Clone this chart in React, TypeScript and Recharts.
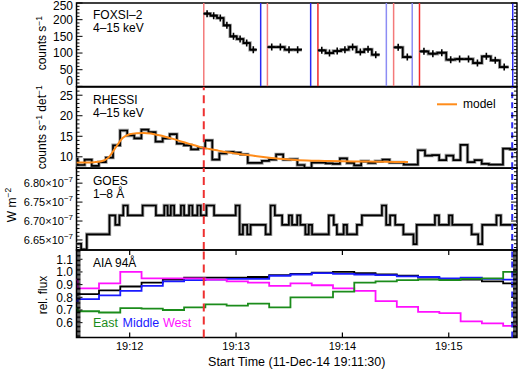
import React from 'react';
import { ComposedChart, Line, XAxis, YAxis, ReferenceLine, ReferenceArea } from 'recharts';

// ---------------- data ----------------
const TIME_DOMAIN: [number, number] = [0, 248.5]; // seconds after 19:11:30
const TIME_TICKS = [30, 90, 150, 210];
const TIME_LABELS = ['19:12', '19:13', '19:14', '19:15'];
const TIME_TITLE = 'Start Time (11-Dec-14 19:11:30)';

// FOXSI-2 target segments (start, end seconds) and count rates
const FOXSI_SEG_START = [71.8, 107.7, 136.2, 178.9, 193.5];
const FOXSI_SEG_END = [101.6, 127.2, 171.0, 189.2, 243.8];
const FOXSI_A = [218, 212, 205, 183, 150, 142, 130, 110];
const FOXSI_B = [118, 118, 110, 110];
const FOXSI_C = [108, 100, 106, 110, 118, 103, 111, 95];
const FOXSI_D = [117, 88];
const FOXSI_E = [105, 98, 101, 80, 82, 82, 70, 90, 78, 58];
const FOXSI_SEGMENTS = [FOXSI_A, FOXSI_B, FOXSI_C, FOXSI_D, FOXSI_E];

// target change markers
const MARKER_T = [71.8, 103.9, 107.7, 132.1, 136.2, 174.8, 178.9, 189.4, 193.5, 246.1];
const MARKER_KIND = ['pink', 'blue', 'pink', 'blue', 'red', 'lightblue', 'pink', 'lightblue', 'red', 'blue'];

// RHESSI 4 s bins
const RHESSI_START = -3.4;
const RHESSI_BIN = 4;
const RHESSI_RATE = [
  9.5, 8.0, 9.3, 7.8, 8.7, 9.8, 12.8, 16.4, 15.2, 14.5,
  16.6, 16.0, 13.7, 14.5, 15.5, 13.2, 12.8, 11.8, 12.2, 14.0,
  9.3, 10.8, 11.2, 11.0, 10.6, 8.5, 8.5, 9.0, 9.3, 10.6,
  9.3, 9.4, 8.0, 7.3, 8.6, 8.6, 8.4, 8.3, 9.6, 8.5,
  7.9, 8.9, 8.5, 8.9, 9.3, 8.6, 8.6, 8.1, 8.1, 11.6,
  10.3, 10.4, 9.2, 10.3, 9.2, 12.9, 8.7, 9.2, 8.3, 8.1,
  8.1, 12.0, 11.8,
];
const MODEL_T = [0, 5, 10, 14, 18, 22, 26, 30, 34, 38, 42, 46, 50, 55, 60, 65, 70, 75, 80, 85, 90, 95, 100, 110, 120, 130, 140, 150, 160, 170, 180, 187];
const MODEL_V = [8.6, 8.6, 8.7, 8.9, 9.8, 12.2, 14.6, 15.5, 15.75, 15.8, 15.65, 15.3, 14.9, 14.3, 13.6, 13.0, 12.35, 11.9, 11.5, 11.1, 10.8, 10.5, 10.25, 9.7, 9.35, 9.1, 9.0, 8.9, 8.85, 8.8, 8.75, 8.75];

// GOES 1-8 A (units of 1e-7 W m^-2), step start times
const GOES_T = [0, 2.6, 5.8, 18.6, 21.9, 24.2, 26.4, 28.9, 37.3, 44.8, 49.5, 51.4, 53.2, 55.1, 58.9, 60.7, 63.5, 65.4, 68.2, 70.1, 73.3, 77.6, 89.8, 92.0, 93.9, 96.3, 98.2, 106.7, 109.5, 111.9, 116.0, 119.8, 121.6, 124.5, 126.3, 129.1, 131.0, 132.9, 142.3, 145.1, 146.9, 150.7, 152.6, 158.2, 161.0, 172.3, 174.7, 176.9, 179.8, 184.4, 190.1, 191.9, 202.2, 204.5, 210.1, 212.0, 222.9, 226.6, 228.9, 236.9, 239.4];
const GOES_FLUX = [6.64, 6.625, 6.665, 6.715, 6.69, 6.715, 6.741, 6.715, 6.741, 6.715, 6.741, 6.715, 6.741, 6.715, 6.741, 6.715, 6.741, 6.715, 6.741, 6.715, 6.741, 6.715, 6.741, 6.665, 6.69, 6.665, 6.69, 6.665, 6.741, 6.715, 6.69, 6.715, 6.69, 6.715, 6.69, 6.665, 6.69, 6.665, 6.715, 6.69, 6.665, 6.69, 6.665, 6.69, 6.715, 6.741, 6.69, 6.715, 6.69, 6.665, 6.639, 6.69, 6.715, 6.69, 6.715, 6.69, 6.665, 6.639, 6.69, 6.715, 6.69];
const GOES_END = 248.5;

// AIA 94 A, 12 s bins
const AIA_START = -11.3;
const AIA_BIN = 12;
const AIA_TOTAL = [0.82, 0.825, 0.855, 0.885, 0.915, 0.94, 0.955, 0.955, 0.955, 0.96, 0.975, 0.985, 0.995, 1.0, 0.99, 0.98, 0.97, 0.955, 0.945, 0.94, 0.925, 0.91];
const AIA_MIDDLE = [0.77, 0.785, 0.815, 0.85, 0.89, 0.925, 0.935, 0.94, 0.945, 0.945, 0.97, 0.98, 0.99, 0.985, 0.98, 0.975, 0.965, 0.96, 0.95, 0.955, 0.945, 0.94];
const AIA_WEST = [0.94, 0.87, 0.91, 1.0, 0.95, 0.95, 0.95, 0.94, 0.925, 0.915, 0.89, 0.91, 0.895, 0.87, 0.85, 0.77, 0.725, 0.685, 0.675, 0.61, 0.595, 0.575];
const AIA_EAST = [0.715, 0.69, 0.68, 0.715, 0.71, 0.70, 0.72, 0.745, 0.735, 0.75, 0.72, 0.80, 0.80, 0.845, 0.915, 0.925, 0.935, 0.94, 0.935, 0.945, 0.95, 1.0];

const FLARE_T = 71.8;
const END_T = 245.8;

// ---------------- layout / style ----------------
const FONT = '"Liberation Sans", Arial, Helvetica, sans-serif';
const W = 523;
const PLOT_L = 76.5;
const PLOT_R = 517;
const MV = 8;
const P1 = { top: 3.3, h: 83.4 };
const P2 = { top: 86.7, h: 81.3 };
const P3 = { top: 168, h: 82 };
const P4 = { top: 250, h: 87.5 };
const KIND_COLOR: Record<string, string> = { pink: '#f47a7a', red: '#f02a2a', blue: '#2a2af2', lightblue: '#8c8cf4' };

type Pt = { t: number; v: number };
const binSteps = (start: number, dt: number, vals: number[]): Pt[] => {
  const pts = vals.map((v, i) => ({ t: start + i * dt, v }));
  pts.push({ t: start + vals.length * dt, v: vals[vals.length - 1] });
  return pts;
};
const edgeSteps = (ts: number[], vals: number[], end: number): Pt[] => {
  const pts = ts.map((t, i) => ({ t, v: vals[i] }));
  pts.push({ t: end, v: vals[vals.length - 1] });
  return pts;
};
const range = (a: number, b: number, step: number) => {
  const n = Math.round((b - a) / step);
  return Array.from({ length: n + 1 }, (_, i) => +(a + i * step).toFixed(4));
};

const foxsiSegs = FOXSI_SEGMENTS.map((vals, i) => {
  const s = FOXSI_SEG_START[i];
  const dt = (FOXSI_SEG_END[i] - s) / vals.length;
  return {
    steps: binSteps(s, dt, vals),
    centers: vals.map((v, j) => ({ t: s + (j + 0.5) * dt, v })),
  };
});
const rhessiSteps = binSteps(RHESSI_START, RHESSI_BIN, RHESSI_RATE);
const modelPts = MODEL_T.map((t, i) => ({ t, v: MODEL_V[i] }));
const goesSteps = edgeSteps(GOES_T, GOES_FLUX, GOES_END);
const aiaTotal = binSteps(AIA_START, AIA_BIN, AIA_TOTAL);
const aiaMiddle = binSteps(AIA_START, AIA_BIN, AIA_MIDDLE);
const aiaWest = binSteps(AIA_START, AIA_BIN, AIA_WEST);
const aiaEast = binSteps(AIA_START, AIA_BIN, AIA_EAST);

function makeYTick(majors: number[], fmt: (v: number) => React.ReactNode, fontSize: number, cTop: number, cBot: number, minorLen = 3) {
  return (props: any) => {
    const { y, payload } = props;
    const v = payload.value;
    const major = majors.some((m) => Math.abs(m - v) < 1e-6);
    const len = major ? 6 : minorLen;
    const ly = Math.min(Math.max(y, cTop), cBot);
    return (
      <g>
        <line x1={PLOT_L} x2={PLOT_L + len} y1={y} y2={y} stroke="#000" strokeWidth={1} />
        <line x1={PLOT_R - len} x2={PLOT_R} y1={y} y2={y} stroke="#000" strokeWidth={1} />
        {major && (
          <text x={73} y={ly} dy="0.36em" textAnchor="end" fontSize={fontSize} fontFamily={FONT} fill="#000">
            {fmt(v)}
          </text>
        )}
      </g>
    );
  };
}

function makeXTick(top: number, bottom: number, labels: boolean) {
  return (props: any) => {
    const { x, payload } = props;
    const idx = TIME_TICKS.indexOf(payload.value);
    return (
      <g>
        <line x1={x} x2={x} y1={top} y2={top + 5} stroke="#000" strokeWidth={1.2} />
        <line x1={x} x2={x} y1={bottom - 5} y2={bottom} stroke="#000" strokeWidth={1.2} />
        {labels && (
          <text x={x} y={bottom + 12.5} textAnchor="middle" fontSize={11} fontFamily={FONT} fill="#000">
            {TIME_LABELS[idx]}
          </text>
        )}
      </g>
    );
  };
}

const plusDot = (p: any) => {
  if (p.cx == null || p.cy == null) return <g key={p.index} />;
  return <path key={p.index} d={`M${p.cx - 3.5},${p.cy}h7M${p.cx},${p.cy - 3.5}v7`} stroke="#000" strokeWidth={1.6} fill="none" />;
};

const boxStyle = (p: { top: number; h: number }, extra: number): React.CSSProperties => ({
  position: 'absolute',
  left: 0,
  top: p.top - MV,
  width: W,
  height: MV + p.h + extra,
});

const txt = (x: number, y: number, s: React.ReactNode, fill = '#000', size = 11.5) => (
  <text x={x} y={y} fontSize={size} fontFamily={FONT} fill={fill}>
    {s}
  </text>
);

const rotTitle = (x: number, cy: number, content: React.ReactNode) => (
  <text transform={`translate(${x},${cy}) rotate(-90)`} textAnchor="middle" fontSize={12} fontFamily={FONT} fill="#000">
    {content}
  </text>
);

const stepPair = (key: string, data: Pt[]) => [
  <Line key={key + 'h'} data={data} dataKey="v" type="stepAfter" stroke="#9a9a9a" strokeWidth={3.4} dot={false} isAnimationActive={false} />,
  <Line key={key + 'b'} data={data} dataKey="v" type="stepAfter" stroke="#000" strokeWidth={1.7} dot={false} isAnimationActive={false} />,
];

export default function App() {
  const goesFmt = (v: number) => (
    <>
      {v.toFixed(2)}×10<tspan dy={-5} fontSize={8}>−7</tspan>
    </>
  );
  return (
    <div style={{ position: 'absolute', left: 0, top: 0, width: W, height: 370, background: '#fff', overflow: 'hidden' }}>
      {/* Panel 1: FOXSI */}
      <div style={boxStyle(P1, MV)}>
        <ComposedChart width={W} height={MV + P1.h + MV} margin={{ top: MV, right: W - PLOT_R, bottom: MV, left: 0 }}>
          <XAxis type="number" dataKey="t" domain={TIME_DOMAIN} allowDataOverflow ticks={TIME_TICKS} interval={0} height={0} axisLine={false} tickLine={false} tick={makeXTick(MV, MV + P1.h, false)} />
          <YAxis
            type="number"
            domain={[0, 250]}
            allowDataOverflow
            ticks={range(0, 250, 10)}
            interval={0}
            width={PLOT_L}
            axisLine={false}
            tickLine={false}
            tick={makeYTick(range(0, 250, 50), (v) => String(v), 12, MV + 2.7, MV + P1.h - 5.5)}
            label={{
              content: () => (
                <g transform={`translate(0,${-(P1.top - MV)})`}>
                  {txt(93, 19.5, 'FOXSI–2', '#000', 12)}
                  {txt(93, 32, '4–15 keV', '#000', 12)}
                  {rotTitle(46, 43.5, <>counts s<tspan dy={-4.5} fontSize={8.5}>−1</tspan></>)}
                </g>
              ),
            }}
          />
          {MARKER_T.map((t, i) => (
            <ReferenceLine key={'m' + i} x={t} stroke={KIND_COLOR[MARKER_KIND[i]]} strokeWidth={1.5} />
          ))}
          {foxsiSegs.map((seg, i) => [
            ...stepPair('f' + i, seg.steps),
            <Line key={'fc' + i} data={seg.centers} dataKey="v" stroke="none" dot={plusDot} isAnimationActive={false} />,
          ])}
          <ReferenceArea x1={0} x2={TIME_DOMAIN[1]} y1={0} y2={250} fill="none" stroke="#000" strokeWidth={1.5} />
        </ComposedChart>
      </div>

      {/* Panel 2: RHESSI */}
      <div style={boxStyle(P2, MV)}>
        <ComposedChart width={W} height={MV + P2.h + MV} margin={{ top: MV, right: W - PLOT_R, bottom: MV, left: 0 }}>
          <XAxis type="number" dataKey="t" domain={TIME_DOMAIN} allowDataOverflow ticks={TIME_TICKS} interval={0} height={0} axisLine={false} tickLine={false} tick={makeXTick(MV, MV + P2.h, false)} />
          <YAxis
            type="number"
            domain={[7.2, 27]}
            allowDataOverflow
            ticks={range(8, 27, 1)}
            interval={0}
            width={PLOT_L}
            axisLine={false}
            tickLine={false}
            tick={makeYTick([10, 15, 20, 25], (v) => String(v), 12, 0, 999)}
            label={{
              content: () => (
                <g transform={`translate(0,${-(P2.top - MV)})`}>
                  {txt(93, 103.5, 'RHESSI', '#000', 12)}
                  {txt(93, 116.5, '4–15 keV', '#000', 12)}
                  <line x1={437} x2={457} y1={104} y2={104} stroke="#ff8c1a" strokeWidth={2} />
                  {txt(463, 108, 'model', '#000', 12)}
                  {rotTitle(46, 127, <>counts s<tspan dy={-4.5} fontSize={8.5}>−1</tspan><tspan dy={4.5}> det</tspan><tspan dy={-4.5} fontSize={8.5}>−1</tspan></>)}
                </g>
              ),
            }}
          />
          {stepPair('r', rhessiSteps)}
          <Line data={modelPts} dataKey="v" type="monotone" stroke="#ff8c1a" strokeWidth={2} dot={false} isAnimationActive={false} />
          <ReferenceLine x={FLARE_T} stroke="#ee3030" strokeWidth={2} strokeDasharray="8 5" />
          <ReferenceLine x={END_T} stroke="#2a2af2" strokeWidth={2} strokeDasharray="6 4" />
          <ReferenceArea x1={0} x2={TIME_DOMAIN[1]} y1={7.2} y2={27} fill="none" stroke="#000" strokeWidth={1.5} />
        </ComposedChart>
      </div>

      {/* Panel 3: GOES */}
      <div style={boxStyle(P3, MV)}>
        <ComposedChart width={W} height={MV + P3.h + MV} margin={{ top: MV, right: W - PLOT_R, bottom: MV, left: 0 }}>
          <XAxis type="number" dataKey="t" domain={TIME_DOMAIN} allowDataOverflow ticks={TIME_TICKS} interval={0} height={0} axisLine={false} tickLine={false} tick={makeXTick(MV, MV + P3.h, false)} />
          <YAxis
            type="number"
            domain={[6.6235, 6.84]}
            allowDataOverflow
            ticks={range(6.63, 6.84, 0.01)}
            interval={0}
            width={PLOT_L}
            axisLine={false}
            tickLine={false}
            tick={makeYTick([6.65, 6.7, 6.75, 6.8], goesFmt, 11, 0, 999)}
            label={{
              content: () => (
                <g transform={`translate(0,${-(P3.top - MV)})`}>
                  {txt(93, 185, 'GOES', '#000', 12)}
                  {txt(93, 197.5, '1–8 Å', '#000', 12)}
                  {rotTitle(15.5, 205, <>W m<tspan dy={-4.5} fontSize={8.5}>−2</tspan></>)}
                </g>
              ),
            }}
          />
          {stepPair('g', goesSteps)}
          <ReferenceLine x={FLARE_T} stroke="#ee3030" strokeWidth={2} strokeDasharray="8 5" />
          <ReferenceLine x={END_T} stroke="#2a2af2" strokeWidth={2} strokeDasharray="6 4" />
          <ReferenceArea x1={0} x2={TIME_DOMAIN[1]} y1={6.6235} y2={6.84} fill="none" stroke="#000" strokeWidth={1.5} />
        </ComposedChart>
      </div>

      {/* Panel 4: AIA */}
      <div style={boxStyle(P4, 32)}>
        <ComposedChart width={W} height={MV + P4.h + 32} margin={{ top: MV, right: W - PLOT_R, bottom: 0, left: 0 }}>
          <XAxis
            type="number"
            dataKey="t"
            domain={TIME_DOMAIN}
            allowDataOverflow
            ticks={TIME_TICKS}
            interval={0}
            height={32}
            axisLine={false}
            tickLine={false}
            tick={makeXTick(MV, MV + P4.h, true)}
          />
          <YAxis
            type="number"
            domain={[0.483, 1.173]}
            allowDataOverflow
            ticks={range(0.49, 1.17, 0.01)}
            interval={0}
            width={PLOT_L}
            axisLine={false}
            tickLine={false}
            tick={makeYTick([0.6, 0.7, 0.8, 0.9, 1.0, 1.1], (v) => v.toFixed(1), 12, 0, 999, 4)}
            label={{
              content: () => (
                <g transform={`translate(0,${-(P4.top - MV)})`}>
                  {txt(93, 266.5, 'AIA 94Å', '#000', 12)}
                  {txt(93, 327, 'East', '#1b8c1b', 12.5)}
                  {txt(122.5, 327, 'Middle', '#1a1aff', 12.5)}
                  {txt(163, 327, 'West', '#ff10ff', 12.5)}
                  {rotTitle(46.5, 295, 'rel. flux')}
                  <text x={(PLOT_L + PLOT_R) / 2} y={366} textAnchor="middle" fontSize={12.5} fontFamily={FONT} fill="#000">
                    {TIME_TITLE}
                  </text>
                </g>
              ),
            }}
          />
          <Line data={aiaTotal} dataKey="v" type="stepAfter" stroke="#000" strokeWidth={1.8} dot={false} isAnimationActive={false} />
          <Line data={aiaMiddle} dataKey="v" type="stepAfter" stroke="#1a1aff" strokeWidth={1.8} dot={false} isAnimationActive={false} />
          <Line data={aiaWest} dataKey="v" type="stepAfter" stroke="#ff10ff" strokeWidth={1.8} dot={false} isAnimationActive={false} />
          <Line data={aiaEast} dataKey="v" type="stepAfter" stroke="#1b8c1b" strokeWidth={1.8} dot={false} isAnimationActive={false} />
          <ReferenceLine x={FLARE_T} stroke="#ee3030" strokeWidth={2} strokeDasharray="8 5" />
          <ReferenceLine x={END_T} stroke="#2a2af2" strokeWidth={2} strokeDasharray="6 4" />
          <ReferenceArea x1={0} x2={TIME_DOMAIN[1]} y1={0.483} y2={1.173} fill="none" stroke="#000" strokeWidth={1.5} />
        </ComposedChart>
      </div>
    </div>
  );
}
